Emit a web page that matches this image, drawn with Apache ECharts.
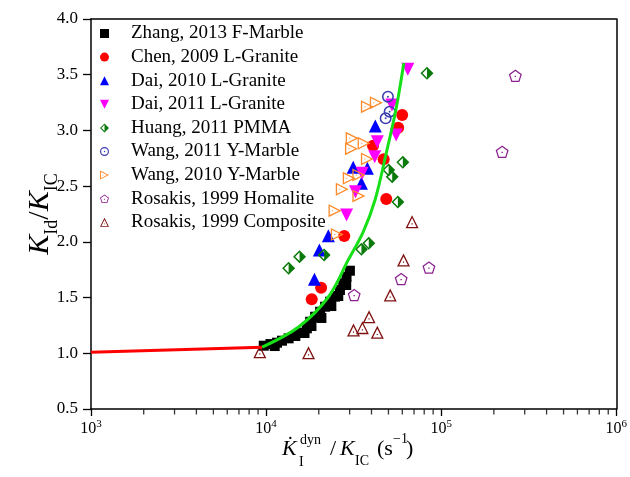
<!DOCTYPE html>
<html>
<head>
<meta charset="utf-8">
<script src="https://cdn.jsdelivr.net/npm/echarts@6/dist/echarts.min.js"></script>
<style>
  html, body { margin: 0; padding: 0; background: #ffffff; }
  #chart { width: 630px; height: 477px; }
</style>
</head>
<body>
<div id="chart"></div>
<script>
// Normalised dynamic fracture toughness K_Id/K_IC versus normalised loading rate.

const zhang2013 = [
  [9700, 1.068], [10590, 1.083], [11200, 1.065], [11540, 1.095], [12330, 1.113],
  [13450, 1.134], [14690, 1.155], [15670, 1.185], [16580, 1.182], [17090, 1.224],
  [17860, 1.283], [18160, 1.245], [19060, 1.328], [20350, 1.373], [20700, 1.317],
  [21730, 1.418], [23190, 1.463], [23590, 1.424], [24760, 1.508], [25840, 1.514],
  [26420, 1.568], [27590, 1.628], [28690, 1.613], [28810, 1.687], [30110, 1.741]
];
const chen2009 = [
  [18230, 1.484], [20620, 1.589], [27950, 2.053], [48570, 2.385],
  [46960, 2.741], [40820, 2.863], [56810, 3.024], [59880, 3.138]
];
const dai2010 = [
  [18890, 1.664], [20160, 1.927], [22680, 2.055], [35040, 2.525],
  [31440, 2.669], [37900, 2.660], [42060, 3.040]
];
const dai2011 = [
  [64470, 3.549], [52320, 3.228], [55350, 2.959], [43180, 2.899],
  [41740, 2.764], [35360, 2.615], [32400, 2.450], [28810, 2.241]
];
const huang2011 = [
  [82970, 3.513], [60400, 2.714], [50120, 2.645], [52520, 2.585], [56580, 2.358],
  [13450, 1.763], [15530, 1.867], [21450, 1.882], [35040, 1.933], [38590, 1.987]
];
const wang2011 = [
  [49660, 3.303], [50770, 3.168], [48190, 3.109]
];
const wang2010 = [
  [37900, 3.213], [42620, 3.249], [31030, 2.929], [36290, 2.884], [30740, 2.836],
  [37900, 2.744], [33870, 2.600], [29840, 2.570], [27240, 2.472], [33870, 2.412],
  [24760, 2.280], [25510, 2.066]
];
const rosakisHomalite = [
  [31850, 1.523], [59100, 1.667], [85150, 1.770], [223000, 2.809], [265300, 3.491]
];
const rosakisComposite = [
  [9210, 1.014], [17470, 1.005], [31570, 1.209], [35500, 1.230], [38740, 1.328],
  [43180, 1.188], [51170, 1.523], [60950, 1.837], [68210, 2.181]
];

// Fitted curves: quasi-static plateau and rate-sensitive branch
const plateauFit = [[1000, 1.01], [9500, 1.055]];
const rateFit = [
  [9500, 1.056], [15330, 1.236], [22680, 1.505], [29450, 1.837], [35830, 2.088],
  [41900, 2.376], [49010, 2.824], [55110, 3.183], [61200, 3.605]
];

// Log-axis minor tick positions (2..9 within each decade)
const xMinorTicks = [
  2000, 3000, 4000, 5000, 6000, 7000, 8000, 9000,
  20000, 30000, 40000, 50000, 60000, 70000, 80000, 90000,
  200000, 300000, 400000, 500000, 600000, 700000, 800000, 900000
];

const seriesNames = [
  'Zhang, 2013 F-Marble', 'Chen, 2009 L-Granite', 'Dai, 2010 L-Granite',
  'Dai, 2011 L-Granite', 'Huang, 2011 PMMA', 'Wang, 2011 Y-Marble',
  'Wang, 2010 Y-Marble', 'Rosakis, 1999 Homalite', 'Rosakis, 1999 Composite'
];

// Marker outlines: outer contour clockwise, inner contour counter-clockwise (hollow), plus centre dot
const SYM_DOWN = 'path://M0,0L100,0L50,100Z';
const SYM_HALF_DIAMOND = 'path://M50,0L100,50L50,100Z M50,0L50,100L0,50Z M50,16L16,50L50,84Z';
const SYM_RING_DOT = 'path://M50,0A50,50,0,1,1,50,100A50,50,0,1,1,50,0Z M50,13A37,37,0,1,0,50,87A37,37,0,1,0,50,13Z M50,42A8,8,0,1,1,50,58A8,8,0,1,1,50,42Z';
const SYM_RIGHT_TRI_DOT = 'path://M0,0L100,50L0,100Z M10,16.2L10,83.8L77.6,50Z M27,46L35,46L35,54L27,54Z';
const SYM_UP_TRI_DOT = 'path://M50,0L100,100L0,100Z M50,22.4L16.2,90L83.8,90Z M45.5,62L54.5,62L54.5,71L45.5,71Z';
const SYM_PENTA_DOT = 'path://M50,0L97.55,34.55L79.39,90.45L20.61,90.45L2.45,34.55Z M50,11.1L13,38L27.1,81.5L72.9,81.5L87,38Z M45,45L55,45L55,55L45,55Z';

const FONT = 'Liberation Serif';

function scatter(name, data, symbol, size, color) {
  return {
    name: name,
    type: 'scatter',
    data: data,
    symbol: symbol,
    symbolSize: size,
    symbolKeepAspect: true,
    itemStyle: { color: color, opacity: 1 },
    z: 3
  };
}

const chart = echarts.init(document.getElementById('chart'), null, { renderer: 'canvas' });

chart.setOption({
  animation: false,
  backgroundColor: '#ffffff',
  grid: { left: 91, right: 10, top: 19, bottom: 68 },
  legend: {
    data: seriesNames,
    orient: 'vertical',
    left: 100,
    top: 24,
    itemWidth: 9,
    itemHeight: 9,
    itemGap: 4.6,
    padding: 0,
    textStyle: { fontFamily: FONT, fontSize: 19, color: '#000', padding: [0, 0, 0, 17], lineHeight: 16 },
    selectedMode: false
  },
  xAxis: [
    {
      type: 'log',
      logBase: 10,
      min: 1000,
      max: 1000000,
      axisLine: { onZero: false, lineStyle: { color: '#000', width: 1.5 } },
      axisTick: { show: true, inside: false, length: 7, lineStyle: { color: '#000', width: 1.3 } },
      axisLabel: {
        margin: 10,
        color: '#000',
        fontFamily: FONT,
        fontSize: 16,
        formatter: function (v) { return '{b|10}{e|' + Math.round(Math.log10(v)) + '}'; },
        rich: {
          b: { fontFamily: FONT, fontSize: 16, color: '#000', lineHeight: 20 },
          e: { fontFamily: FONT, fontSize: 11, color: '#000', lineHeight: 12, verticalAlign: 'top' }
        }
      },
      splitLine: { show: false },
      minorTick: { show: false }
    },
    {
      type: 'log',
      logBase: 10,
      min: 1000,
      max: 1000000,
      position: 'top',
      axisLine: { onZero: false, lineStyle: { color: '#000', width: 1.5 } },
      axisTick: { show: false },
      axisLabel: { show: false },
      splitLine: { show: false }
    }
  ],
  yAxis: [
    {
      type: 'value',
      min: 0.5,
      max: 4.0,
      interval: 0.5,
      axisLine: { show: true, onZero: false, lineStyle: { color: '#000', width: 1.5 } },
      axisTick: { show: true, inside: false, length: 8, lineStyle: { color: '#000', width: 1.3 } },
      axisLabel: {
        margin: 13,
        color: '#000',
        fontFamily: FONT,
        fontSize: 17,
        formatter: function (v) { return v.toFixed(1); }
      },
      splitLine: { show: false },
      name: '{k|K}{s|Id}{n|/}{k|K}{s|IC}',
      nameLocation: 'middle',
      nameRotate: 90,
      nameGap: 34,
      nameMoveOverlap: false,
      nameTextStyle: {
        rich: {
          k: { fontFamily: FONT, fontStyle: 'italic', fontSize: 30, color: '#000', lineHeight: 34, verticalAlign: 'middle' },
          n: { fontFamily: FONT, fontSize: 30, color: '#000', lineHeight: 34, verticalAlign: 'middle' },
          s: { fontFamily: FONT, fontSize: 18, color: '#000', lineHeight: 34, verticalAlign: 'bottom', padding: [0, 0, -4, 0] }
        }
      }
    },
    {
      type: 'value',
      min: 0.5,
      max: 4.0,
      interval: 0.5,
      position: 'right',
      axisLine: { show: true, onZero: false, lineStyle: { color: '#000', width: 1.5 } },
      axisTick: { show: false },
      axisLabel: { show: false },
      splitLine: { show: false }
    }
  ],
  graphic: [
    { type: 'text', x: 282, y: 449, style: { text: 'K\u0307', font: 'italic 22px "Liberation Serif"', fill: '#000', verticalAlign: 'middle' } },
    { type: 'text', x: 300, y: 440, style: { text: 'dyn', font: '14px "Liberation Serif"', fill: '#000', verticalAlign: 'middle' } },
    { type: 'text', x: 299, y: 462, style: { text: 'I', font: '14px "Liberation Serif"', fill: '#000', verticalAlign: 'middle' } },
    { type: 'text', x: 330, y: 449, style: { text: '/', font: '22px "Liberation Serif"', fill: '#000', verticalAlign: 'middle' } },
    { type: 'text', x: 340, y: 449, style: { text: 'K', font: 'italic 22px "Liberation Serif"', fill: '#000', verticalAlign: 'middle' } },
    { type: 'text', x: 355, y: 461, style: { text: 'IC', font: '14px "Liberation Serif"', fill: '#000', verticalAlign: 'middle' } },
    { type: 'text', x: 377, y: 449, style: { text: '(s', font: '22px "Liberation Serif"', fill: '#000', verticalAlign: 'middle' } },
    { type: 'text', x: 393, y: 439, style: { text: '\u22121', font: '14px "Liberation Serif"', fill: '#000', verticalAlign: 'middle' } },
    { type: 'text', x: 406, y: 449, style: { text: ')', font: '22px "Liberation Serif"', fill: '#000', verticalAlign: 'middle' } }
  ],
  series: [
    scatter(seriesNames[0], zhang2013, 'rect', 10, '#000000'),
    scatter(seriesNames[1], chen2009, 'circle', 12, '#ff0000'),
    scatter(seriesNames[2], dai2010, 'triangle', 13, '#0000ff'),
    scatter(seriesNames[3], dai2011, SYM_DOWN, 13, '#ff00ff'),
    scatter(seriesNames[4], huang2011, SYM_HALF_DIAMOND, 13, '#0a7a0a'),
    scatter(seriesNames[5], wang2011, SYM_RING_DOT, 12, '#3a3ab0'),
    scatter(seriesNames[6], wang2010, SYM_RIGHT_TRI_DOT, 13, '#ff8a2a'),
    scatter(seriesNames[7], rosakisHomalite, SYM_PENTA_DOT, 13, '#8a1f8f'),
    scatter(seriesNames[8], rosakisComposite, SYM_UP_TRI_DOT, 13, '#7f1010'),
    {
      name: 'plateau',
      type: 'line',
      data: plateauFit,
      showSymbol: false,
      lineStyle: { color: '#ff0000', width: 3 },
      z: 4,
      silent: true
    },
    {
      name: 'rate',
      type: 'line',
      data: rateFit,
      smooth: 0.35,
      showSymbol: false,
      lineStyle: { color: '#18e018', width: 3 },
      z: 4,
      silent: true
    },
    {
      name: 'minorTicks',
      type: 'scatter',
      data: xMinorTicks.map(function (v) { return [v, 0.5]; }),
      symbol: 'rect',
      symbolSize: [1.3, 5],
      symbolOffset: [0, 3],
      itemStyle: { color: '#000' },
      clip: false,
      silent: true,
      z: 5
    }
  ]
});
</script>
</body>
</html>
